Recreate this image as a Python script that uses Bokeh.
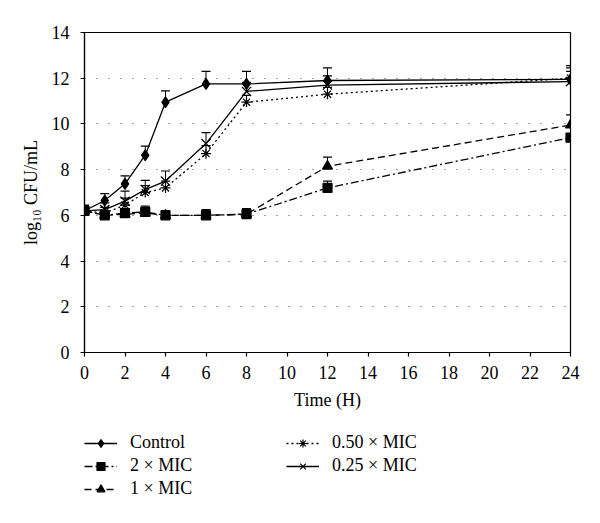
from bokeh.plotting import figure
from bokeh.layouts import column
from bokeh.models import (ColumnDataSource, Whisker, TeeHead, Legend, LegendItem,
                          FixedTicker, Range1d)
from bokeh.embed import file_html
from bokeh.resources import INLINE

# ---- data ----
hours = [0, 1, 2, 3, 4, 6, 8, 12, 24]
control = [6.2, 6.65, 7.38, 8.63, 10.95, 11.75, 11.75, 11.9, 11.95]
control_err = [0.2, 0.3, 0.35, 0.4, 0.5, 0.55, 0.55, 0.55, 0.6]
mic2 = [6.2, 6.0, 6.1, 6.15, 6.0, 6.0, 6.05, 7.2, 9.4]
mic2_err = [0.25, 0.15, 0.2, 0.25, 0.2, 0.25, 0.25, 0.3, 0.1]
mic1 = [6.2, 6.0, 6.05, 6.1, 6.0, 6.0, 6.05, 8.15, 9.95]
mic1_err = [0.2, 0.2, 0.2, 0.2, 0.2, 0.2, 0.2, 0.4, 0.45]
mic050 = [6.2, 6.1, 6.45, 7.0, 7.2, 8.7, 10.95, 11.3, 12.0]
mic050_err = [0.2, 0.25, 0.3, 0.3, 0.3, 0.35, 0.3, 0.3, 0.3]
mic025 = [6.2, 6.25, 6.62, 7.13, 7.5, 9.14, 11.42, 11.7, 11.85]
mic025_err = [0.2, 0.3, 0.44, 0.4, 0.44, 0.48, 0.4, 0.4, 0.6]

labels = ["Control", "2 \u00d7 MIC", "1 \u00d7 MIC", "0.50 \u00d7 MIC", "0.25 \u00d7 MIC"]
x_ticks = [0, 2, 4, 6, 8, 10, 12, 14, 16, 18, 20, 22, 24]
y_ticks = [0, 2, 4, 6, 8, 10, 12, 14]

FONT = "Liberation Serif"
FS = "18px"

p = figure(width=584, height=420, output_backend="svg", toolbar_location=None,
           x_range=Range1d(0, 24), y_range=Range1d(0, 14),
           min_border_left=84, min_border_right=14, min_border_top=32,
           min_border_bottom=68)
p.background_fill_color = "white"
p.border_fill_color = "white"
p.outline_line_color = "black"
p.outline_line_width = 1.2

# grid
p.xgrid.grid_line_color = None
p.ygrid.ticker = FixedTicker(ticks=[2, 4, 6, 8, 10, 12])
p.ygrid.grid_line_color = "#444444"
p.ygrid.grid_line_dash = "1 11"
p.ygrid.grid_line_width = 1

for ax in (p.xaxis[0], p.yaxis[0]):
    ax.axis_line_color = "black"
    ax.axis_line_width = 1.2
    ax.major_tick_line_color = "black"
    ax.major_tick_line_width = 1.2
    ax.major_tick_in = 0
    ax.major_tick_out = 4
    ax.minor_tick_line_color = None
    ax.major_label_text_font = FONT
    ax.major_label_text_font_size = FS
    ax.major_label_text_color = "black"
    ax.axis_label_text_font = FONT
    ax.axis_label_text_font_size = FS
    ax.axis_label_text_font_style = "normal"
    ax.axis_label_text_color = "black"

p.xaxis.ticker = FixedTicker(ticks=x_ticks)
p.yaxis.ticker = FixedTicker(ticks=y_ticks)
p.xaxis.axis_label = "Time (H)"
p.yaxis.axis_label = "log\u2081\u2080 CFU/mL"
p.xaxis.major_label_standoff = 9
p.yaxis.major_label_standoff = 11
p.xaxis.axis_label_standoff = 8
p.yaxis.axis_label_standoff = 8

styles = [
    (None, "diamond", 11, "black", 8),
    ("8 3 2 3", "square", 9, "black", 8),
    ("7 4", "triangle", 10, "black", 7),
    ("2 3", "asterisk", 10, None, 7),
    (None, "x", 13, None, 12),
]
all_series = [(control, control_err), (mic2, mic2_err), (mic1, mic1_err),
              (mic050, mic050_err), (mic025, mic025_err)]

for (ys, errs), (dash, marker, size, fill, _) in zip(all_series, styles):
    src = ColumnDataSource(dict(x=hours, y=ys, upper=[a + b for a, b in zip(ys, errs)]))
    w = Whisker(base="x", lower="y", upper="upper", source=src,
                line_color="black", line_width=1,
                upper_head=TeeHead(size=9, line_color="black", line_width=1.2),
                lower_head=None)
    p.add_layout(w)
    kw = dict(line_color="black", line_width=1.3)
    if dash:
        kw["line_dash"] = dash
    p.line("x", "y", source=src, **kw)
    p.scatter("x", "y", source=src, marker=marker, size=size,
              line_color="black", line_width=1.2,
              fill_color=fill if fill else None)

# ---- legend panel (separate figure; its data lies outside its ranges) ----
lg = figure(width=584, height=87, output_backend="svg", toolbar_location=None,
            x_range=Range1d(-2, -1), y_range=Range1d(-2, -1),
            min_border=0, x_axis_type=None, y_axis_type=None)
lg.outline_line_color = None
lg.grid.grid_line_color = None
lg.background_fill_color = "white"
lg.border_fill_color = "white"

items = []
for label, (ys, _), (dash, marker, size, fill, lsize) in zip(labels, all_series, styles):
    src = ColumnDataSource(dict(x=hours, y=ys))
    kw = dict(line_color="black", line_width=1.3)
    if dash:
        kw["line_dash"] = dash
    r_line = lg.line("x", "y", source=src, **kw)
    r_mark = lg.scatter("x", "y", source=src, marker=marker, size=lsize,
                        line_color="black", line_width=1.2,
                        fill_color=fill if fill else None)
    items.append(LegendItem(label=label, renderers=[r_line, r_mark]))

legend = Legend(items=items, orientation="vertical", nrows=3,
                location=(0, 8),
                label_text_font=FONT, label_text_font_size=FS,
                label_text_color="black",
                glyph_width=33, glyph_height=20, label_height=20,
                label_width=154, label_standoff=13, spacing=2,
                padding=0, margin=0, border_line_color=None,
                background_fill_alpha=0)
lg.add_layout(legend)

layout = column(p, lg, spacing=0)
open("out.html", "w").write(file_html(layout, INLINE))
